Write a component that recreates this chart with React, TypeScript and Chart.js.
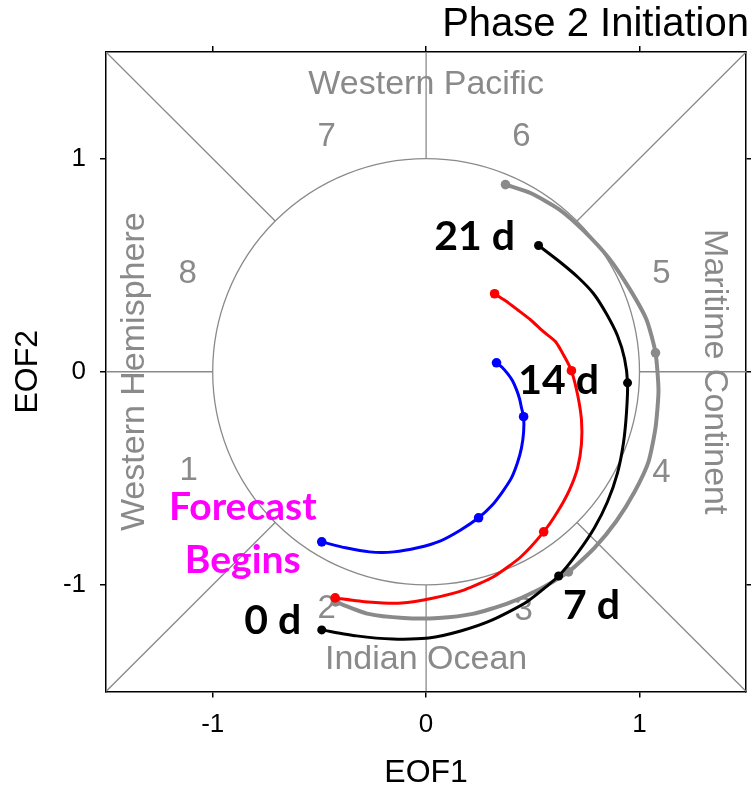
import { useEffect, useRef } from "react";
import { Chart, registerables } from "chart.js";

Chart.register(...registerables);

// ---------- text & axes ----------
const TITLE = "Phase 2 Initiation";
const X_LABEL = "EOF1";
const Y_LABEL = "EOF2";
const AXIS_MIN = -1.5;
const AXIS_MAX = 1.5;
const TICK_VALUES = [-1, 0, 1];

// ---------- trajectories (EOF1, EOF2), one point per day, days 0..21 ----------
const blackX = [-0.489, -0.326, -0.157, 0.012, 0.162, 0.311, 0.471, 0.621, 0.71, 0.789, 0.85, 0.897, 0.925, 0.939, 0.944, 0.93, 0.897, 0.845, 0.785, 0.714, 0.626, 0.527];
const blackY = [-1.211, -1.239, -1.254, -1.249, -1.216, -1.164, -1.08, -0.958, -0.85, -0.732, -0.61, -0.474, -0.333, -0.192, -0.052, 0.061, 0.169, 0.272, 0.366, 0.441, 0.516, 0.592];

const grayX = [-0.424, -0.27, -0.105, 0.059, 0.218, 0.377, 0.527, 0.667, 0.789, 0.892, 0.977, 1.042, 1.075, 1.089, 1.075, 1.033, 0.953, 0.855, 0.738, 0.625, 0.494, 0.372];
const grayY = [-1.08, -1.136, -1.155, -1.155, -1.136, -1.089, -1.023, -0.939, -0.826, -0.7, -0.563, -0.423, -0.263, -0.089, 0.089, 0.244, 0.39, 0.535, 0.662, 0.761, 0.836, 0.878];

const redX = [-0.426, -0.272, -0.115, 0.035, 0.18, 0.316, 0.443, 0.551, 0.616, 0.672, 0.71, 0.728, 0.728, 0.71, 0.681, 0.649, 0.607, 0.55, 0.489, 0.428, 0.372, 0.321];
const redY = [-1.061, -1.08, -1.085, -1.061, -1.023, -0.962, -0.869, -0.751, -0.657, -0.554, -0.451, -0.338, -0.225, -0.108, 0.005, 0.07, 0.141, 0.188, 0.244, 0.291, 0.333, 0.366];

const blueX = [-0.489, -0.377, -0.265, -0.152, -0.04, 0.068, 0.162, 0.246, 0.307, 0.358, 0.4, 0.428, 0.447, 0.457, 0.457, 0.447, 0.438, 0.424, 0.405, 0.382, 0.358, 0.33];
const blueY = [-0.798, -0.826, -0.845, -0.845, -0.826, -0.793, -0.742, -0.685, -0.629, -0.563, -0.498, -0.427, -0.357, -0.282, -0.211, -0.169, -0.127, -0.085, -0.042, -0.009, 0.019, 0.042];

const MARKED_DAYS = [0, 7, 14, 21];

// ---------- background labels ----------
const REGION_TEXT = ["Western Pacific", "Indian Ocean", "Western Hemisphere", "Maritime Continent"];
const REGION_X = [0, 0, -1.365, 1.35];
const REGION_Y = [1.347, -1.352, 0, 0];
const REGION_ROT = [0, 0, -90, 90];

const PHASE_TEXT = ["1", "2", "3", "4", "5", "6", "7", "8"];
const PHASE_X = [-1.112, -0.466, 0.457, 1.103, 1.103, 0.447, -0.466, -1.117];
const PHASE_Y = [-0.465, -1.113, -1.12, -0.474, 0.46, 1.103, 1.103, 0.46];

// ---------- overlay annotations ----------
const DAY_TEXT = ["0 d", "7 d", "14 d", "21 d"];
const DAY_X = [-0.719, 0.775, 0.621, 0.227];
const DAY_Y = [-1.169, -1.099, -0.042, 0.634];

const NOTE_TEXT = ["Forecast", "Begins"];
const NOTE_X = [-0.859, -0.859];
const NOTE_Y = [-0.638, -0.887];

const SANS = "'Liberation Sans', Arial, Helvetica, sans-serif";
const BOLD = "'Lato', 'Open Sans', sans-serif";
const LIGHT_GRAY = "#8a8a8a";

const toPoints = (xs: number[], ys: number[]) => xs.map((x, i) => ({ x, y: ys[i] }));
const radii = (n: number, r: number) =>
  Array.from({ length: n }, (_, i) => (MARKED_DAYS.includes(i) ? r : 0));

function drawText(
  ctx: CanvasRenderingContext2D,
  text: string,
  px: number,
  py: number,
  font: string,
  color: string,
  rotationDeg = 0
) {
  ctx.save();
  ctx.translate(px, py);
  ctx.rotate((rotationDeg * Math.PI) / 180);
  ctx.font = font;
  ctx.fillStyle = color;
  ctx.textAlign = "center";
  ctx.textBaseline = "middle";
  ctx.fillText(text, 0, 0);
  ctx.restore();
}

const backgroundPlugin = {
  id: "mjoBackground",
  beforeDatasetsDraw(chart: any) {
    const { ctx, chartArea, scales } = chart;
    const xs = scales.x;
    const ys = scales.y;
    const px = (v: number) => xs.getPixelForValue(v);
    const py = (v: number) => ys.getPixelForValue(v);
    ctx.save();
    ctx.beginPath();
    ctx.rect(chartArea.left, chartArea.top, chartArea.right - chartArea.left, chartArea.bottom - chartArea.top);
    ctx.clip();
    ctx.strokeStyle = LIGHT_GRAY;
    ctx.lineWidth = 1.3;
    ctx.beginPath();
    ctx.ellipse(px(0), py(0), px(1) - px(0), py(0) - py(1), 0, 0, Math.PI * 2);
    ctx.stroke();
    const segs: number[][] = [
      [AXIS_MIN, 0, -1, 0],
      [1, 0, AXIS_MAX, 0],
      [0, AXIS_MIN, 0, -1],
      [0, 1, 0, AXIS_MAX],
    ];
    const c = Math.SQRT1_2;
    for (const sx of [-1, 1]) {
      for (const sy of [-1, 1]) {
        segs.push([sx * AXIS_MAX, sy * AXIS_MAX, sx * c, sy * c]);
      }
    }
    ctx.beginPath();
    for (const [x1, y1, x2, y2] of segs) {
      ctx.moveTo(px(x1), py(y1));
      ctx.lineTo(px(x2), py(y2));
    }
    ctx.stroke();
    REGION_TEXT.forEach((t, i) =>
      drawText(ctx, t, px(REGION_X[i]), py(REGION_Y[i]), `34px ${SANS}`, LIGHT_GRAY, REGION_ROT[i])
    );
    PHASE_TEXT.forEach((t, i) =>
      drawText(ctx, t, px(PHASE_X[i]), py(PHASE_Y[i]), `33px ${SANS}`, LIGHT_GRAY)
    );
    ctx.restore();
  },
};

const annotationPlugin = {
  id: "mjoAnnotations",
  afterDatasetsDraw(chart: any) {
    const { ctx, scales } = chart;
    const px = (v: number) => scales.x.getPixelForValue(v);
    const py = (v: number) => scales.y.getPixelForValue(v);
    DAY_TEXT.forEach((t, i) =>
      drawText(ctx, t, px(DAY_X[i]), py(DAY_Y[i]), `bold 41px ${BOLD}`, "#000000")
    );
    NOTE_TEXT.forEach((t, i) =>
      drawText(ctx, t, px(NOTE_X[i]), py(NOTE_Y[i]), `bold 39px ${BOLD}`, "#ff00ff")
    );
  },
};

export default function App() {
  const canvasRef = useRef<HTMLCanvasElement | null>(null);

  useEffect(() => {
    if (!canvasRef.current) return;
    const tickGrid = {
      drawOnChartArea: false,
      drawTicks: true,
      tickLength: 6,
      color: "#000000",
      lineWidth: 1.5,
    };
    const border = { display: true, color: "#000000", width: 1.5 };
    const setTicks = (s: any) => {
      s.ticks = TICK_VALUES.map((v) => ({ value: v }));
    };
    const line = (label: string, xs: number[], ys: number[], color: string, width: number, r: number) => ({
      label,
      data: toPoints(xs, ys),
      showLine: true,
      borderColor: color,
      backgroundColor: color,
      borderWidth: width,
      tension: 0.2,
      pointRadius: radii(xs.length, r),
      pointBorderWidth: 0,
    });
    const chart = new Chart(canvasRef.current, {
      type: "scatter",
      data: {
        datasets: [
          line("black", blackX, blackY, "#000000", 3, 4.5),
          line("blue", blueX, blueY, "#0000ff", 3, 4.8),
          line("red", redX, redY, "#ff0000", 3, 4.8),
          line("gray", grayX, grayY, LIGHT_GRAY, 4, 4.8),
        ],
      },
      options: {
        responsive: false,
        animation: false,
        events: [],
        layout: { padding: { left: 0, right: 2, top: 0, bottom: 0 } },
        plugins: {
          legend: { display: false },
          tooltip: { enabled: false },
          title: {
            display: true,
            text: TITLE,
            align: "end",
            color: "#000000",
            font: { family: SANS, size: 40, weight: "normal", lineHeight: 1.15 },
            padding: { top: 2, bottom: 4 },
          },
        },
        scales: {
          x: {
            type: "linear",
            position: "bottom",
            min: AXIS_MIN,
            max: AXIS_MAX,
            afterBuildTicks: setTicks,
            afterFit: (s: any) => {
              s.height = 97.5;
            },
            ticks: {
              color: "#000000",
              font: { family: SANS, size: 26 },
              padding: 12,
              maxRotation: 0,
              autoSkip: false,
            },
            grid: tickGrid,
            border,
            title: {
              display: true,
              text: X_LABEL,
              color: "#000000",
              font: { family: SANS, size: 32, lineHeight: 1 },
              padding: { top: 0, bottom: 0 },
            },
          },
          x2: {
            type: "linear",
            axis: "x",
            position: "top",
            min: AXIS_MIN,
            max: AXIS_MAX,
            afterBuildTicks: setTicks,
            afterFit: (s: any) => {
              s.height = 0;
            },
            ticks: { display: false },
            grid: tickGrid,
            border,
          },
          y: {
            type: "linear",
            position: "left",
            min: AXIS_MIN,
            max: AXIS_MAX,
            afterBuildTicks: setTicks,
            afterFit: (s: any) => {
              s.width = 106;
            },
            ticks: {
              color: "#000000",
              font: { family: SANS, size: 26 },
              padding: 14,
              autoSkip: false,
            },
            grid: tickGrid,
            border,
            title: {
              display: true,
              text: Y_LABEL,
              color: "#000000",
              font: { family: SANS, size: 32, lineHeight: 1 },
              padding: { top: 12, bottom: 0 },
            },
          },
          y2: {
            type: "linear",
            axis: "y",
            position: "right",
            min: AXIS_MIN,
            max: AXIS_MAX,
            afterBuildTicks: setTicks,
            afterFit: (s: any) => {
              s.width = 0;
            },
            ticks: { display: false },
            grid: tickGrid,
            border,
          },
        },
      } as any,
      plugins: [backgroundPlugin, annotationPlugin],
    });
    return () => chart.destroy();
  }, []);

  return (
    <div style={{ position: "absolute", left: 0, top: 0, width: 751, height: 789, background: "#ffffff" }}>
      <canvas ref={canvasRef} width={751} height={789} style={{ display: "block" }} />
    </div>
  );
}
